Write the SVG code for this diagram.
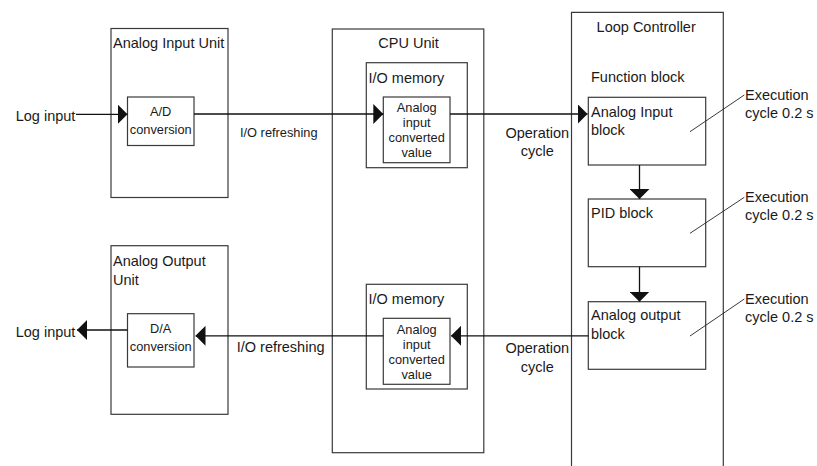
<svg xmlns="http://www.w3.org/2000/svg" width="817" height="466" viewBox="0 0 817 466">
<style>
text{font-family:"Liberation Sans",Arial,sans-serif;fill:#1a1a1a;font-size:14.5px}
.s{font-size:12.8px}
.c{text-anchor:middle}
.box{fill:none;stroke:#3a3a3a;stroke-width:1.2}
.ln{fill:none;stroke:#111;stroke-width:1.3}
.ld{fill:none;stroke:#222;stroke-width:0.9}
</style>
<defs>
<marker id="ah" markerUnits="userSpaceOnUse" markerWidth="10" markerHeight="20" refX="10" refY="10" orient="auto" viewBox="0 0 10 20">
<path d="M0,0 L10,10 L0,20 z" fill="#111"/>
</marker>
</defs>
<rect width="817" height="466" fill="#fff"/>

<g id="analog-input-unit">
<rect class="box" x="111" y="28.5" width="117" height="169"/>
<text x="113" y="48.3" font-size="14.3">Analog Input Unit</text>
</g>
<g id="ad-conversion">
<rect class="box" x="127.5" y="97" width="66.5" height="48.5"/>
<text class="s c" x="160.7" y="115.7">A/D</text>
<text class="s c" x="160.7" y="134">conversion</text>
</g>
<g id="analog-output-unit">
<rect class="box" x="111" y="245.7" width="117" height="168.6"/>
<text x="113" y="266" font-size="14.3">Analog Output</text>
<text x="113" y="285" font-size="14.3">Unit</text>
</g>
<g id="da-conversion">
<rect class="box" x="127.5" y="313.7" width="66.5" height="53.3"/>
<text class="s c" x="160.7" y="332.7">D/A</text>
<text class="s c" x="160.7" y="351">conversion</text>
</g>
<g id="cpu-unit">
<rect class="box" x="332.3" y="29" width="151.5" height="423.7"/>
<text class="c" x="408.5" y="48.3">CPU Unit</text>
</g>
<g id="io-memory-1">
<rect class="box" x="366.3" y="62.7" width="101" height="105"/>
<text x="368.5" y="83.3">I/O memory</text>
</g>
<g id="converted-value-1">
<rect class="box" x="383.3" y="97" width="66.7" height="65.7"/>
<text class="s c" x="416.7" y="112.3">Analog</text>
<text class="s c" x="416.7" y="127.3">input</text>
<text class="s c" x="416.7" y="142.3">converted</text>
<text class="s c" x="416.7" y="157.3">value</text>
</g>
<g id="io-memory-2">
<rect class="box" x="366.3" y="284.3" width="101" height="104.7"/>
<text x="368.5" y="304.3">I/O memory</text>
</g>
<g id="converted-value-2">
<rect class="box" x="383.3" y="318.3" width="66.7" height="66"/>
<text class="s c" x="416.7" y="334.3">Analog</text>
<text class="s c" x="416.7" y="349.3">input</text>
<text class="s c" x="416.7" y="364.3">converted</text>
<text class="s c" x="416.7" y="379.3">value</text>
</g>
<g id="loop-controller">
<path class="box" d="M571.5,470 V12.3 H723.3 V470"/>
<text class="c" x="646.2" y="31.7">Loop Controller</text>
<text x="591" y="81.7">Function block</text>
</g>
<g id="analog-input-block">
<rect class="box" x="588.3" y="97.3" width="117.4" height="67.7"/>
<text x="591" y="116.7">Analog Input</text>
<text x="591" y="135">block</text>
</g>
<g id="pid-block">
<rect class="box" x="588.3" y="199" width="117.4" height="67.7"/>
<text x="591" y="217.7">PID block</text>
</g>
<g id="analog-output-block">
<rect class="box" x="588.3" y="301.7" width="117.4" height="67.6"/>
<text x="591" y="320">Analog output</text>
<text x="591" y="339.3">block</text>
</g>
<g id="labels">
<text x="15.7" y="120.7">Log input</text>
<text x="15.7" y="337.3">Log input</text>
<text class="s" x="240" y="137.3">I/O refreshing</text>
<text x="236.7" y="352.3" font-size="14.2">I/O refreshing</text>
<text class="c" x="537.3" y="137.7">Operation</text>
<text class="c" x="537.3" y="156">cycle</text>
<text class="c" x="537.3" y="353.3">Operation</text>
<text class="c" x="537.3" y="371.7">cycle</text>
<text x="745" y="100">Execution</text>
<text x="745" y="118.3">cycle 0.2 s</text>
<text x="745" y="201.7">Execution</text>
<text x="745" y="220">cycle 0.2 s</text>
<text x="745" y="304">Execution</text>
<text x="745" y="321.7">cycle 0.2 s</text>
</g>
<g id="connectors">
<line class="ln" x1="76" y1="114.3" x2="127.5" y2="114.3" marker-end="url(#ah)"/>
<line class="ln" x1="194" y1="114" x2="383.3" y2="114" marker-end="url(#ah)"/>
<line class="ln" x1="450" y1="114" x2="587.5" y2="114" marker-end="url(#ah)"/>
<line class="ln" x1="639.5" y1="165" x2="639.5" y2="199" marker-end="url(#ah)"/>
<line class="ln" x1="639.5" y1="266.7" x2="639.5" y2="301.7" marker-end="url(#ah)"/>
<line class="ln" x1="588.3" y1="335.8" x2="451" y2="335.8" marker-end="url(#ah)"/>
<line class="ln" x1="383.3" y1="335.8" x2="195.5" y2="335.8" marker-end="url(#ah)"/>
<line class="ln" x1="127.5" y1="330" x2="77" y2="330" marker-end="url(#ah)"/>
<line class="ld" x1="690" y1="131.7" x2="744.3" y2="95"/>
<line class="ld" x1="690" y1="233.3" x2="744.3" y2="197.3"/>
<line class="ld" x1="690" y1="336" x2="744.3" y2="299"/>
</g>
</svg>
